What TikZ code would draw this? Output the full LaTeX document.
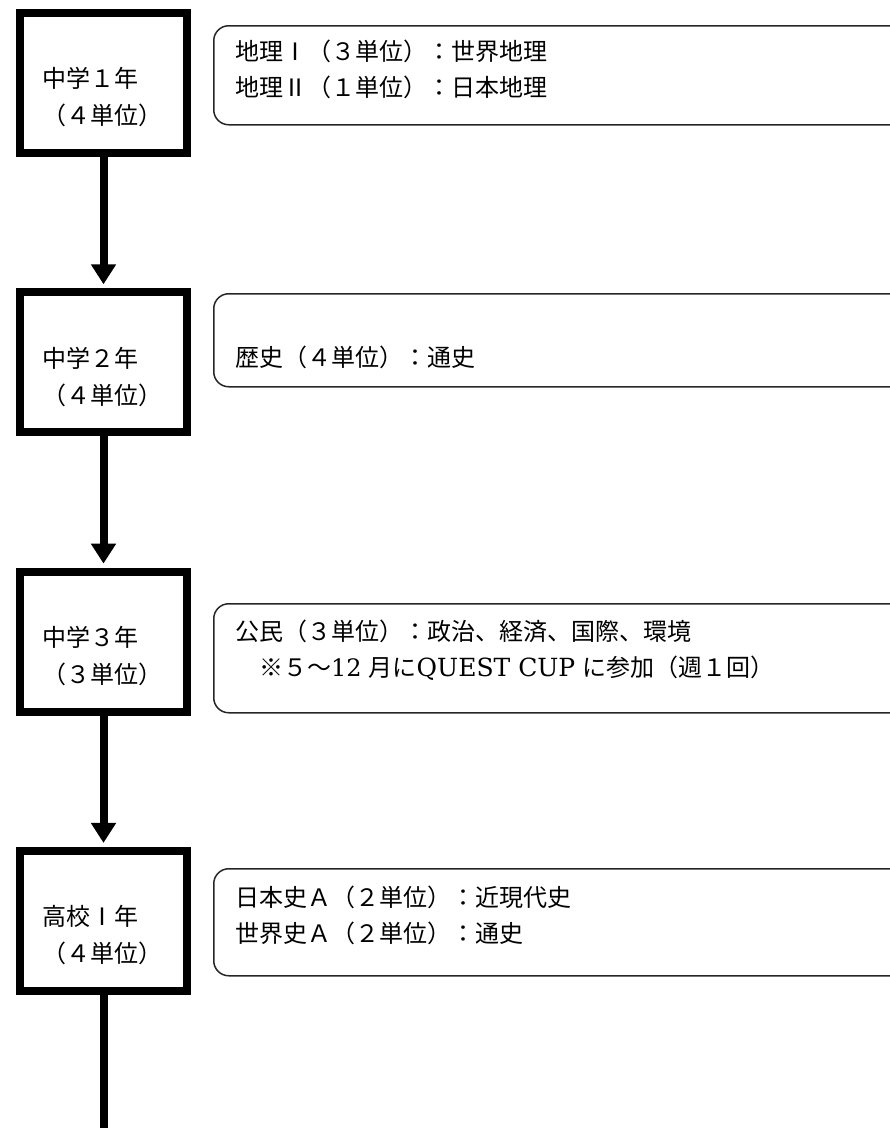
\documentclass[tikz,border=0pt]{standalone}
\usepackage{fontspec}
\setmainfont{Noto Sans CJK JP}
\newfontfamily\latinserif{DejaVu Serif}
\usetikzlibrary{arrows.meta}
\begin{document}
\begin{tikzpicture}[x=1pt,y=-1pt,
  yearbox/.style={draw, line width=8pt, minimum width=167pt, minimum height=140pt, inner sep=0pt},
  rbox/.style={draw=black!85, line width=1.5pt, rounded corners=15pt, minimum width=720pt, anchor=north west, inner sep=0pt},
  ytext/.style={anchor=west, inner sep=0pt, font=\fontsize{24pt}{37pt}\selectfont, align=left},
  btext/.style={anchor=west, inner sep=0pt, font=\fontsize{24pt}{36pt}\selectfont, align=left},
  conn/.style={line width=8pt, -{Triangle[width=24pt,length=20pt]}, shorten >=4pt},
  connend/.style={line width=8pt}
]
\useasboundingbox (0,0) rectangle (890,1128);

% year boxes
\node[yearbox] (y1) at (103.5,83) {};
\node[yearbox] (y2) at (103.5,362.3) {};
\node[yearbox] (y3) at (103.5,641.6) {};
\node[yearbox] (y4) at (103.5,920.9) {};

\node[ytext] (yt1) at (42,97) {中学１年\\（４単位）};
\node[ytext] (yt2) at (42,377) {中学２年\\（４単位）};
\node[ytext] (yt3) at (42,656) {中学３年\\（３単位）};
\node[ytext] (yt4) at (42,935) {高校Ⅰ年\\（４単位）};

% connectors
\coordinate (bottom) at (103.5,1128);
\draw[conn] (y1.south) -- (y2.north);
\draw[conn] (y2.south) -- (y3.north);
\draw[conn] (y3.south) -- (y4.north);
\draw[connend] (y4.south) -- (bottom);

% content boxes (cut at the right edge)
\begin{scope}
\clip (0,0) rectangle (890,1128);
\node[rbox, minimum height=99pt] (r1) at (213,25) {};
\node[rbox, minimum height=93pt] (r2) at (213,293) {};
\node[rbox, minimum height=109pt] (r3) at (213,603) {};
\node[rbox, minimum height=107pt] (r4) at (213,868) {};
\end{scope}

\node[btext] (t1) at (235,69) {地理Ⅰ（３単位）：世界地理\\地理Ⅱ（１単位）：日本地理};
\node[btext] (t2) at (235,357) {歴史（４単位）：通史};
\node[btext] (t3) at (235,650) {公民（３単位）：政治、経済、国際、環境\\　※５～{\latinserif 12}\hspace{7pt}月に{\latinserif\fontsize{25pt}{36pt}\selectfont QUEST CUP}\hspace{7pt}に参加（週１回）};
\node[btext] (t4) at (235,915) {日本史Ａ（２単位）：近現代史\\世界史Ａ（２単位）：通史};
\end{tikzpicture}
\end{document}
